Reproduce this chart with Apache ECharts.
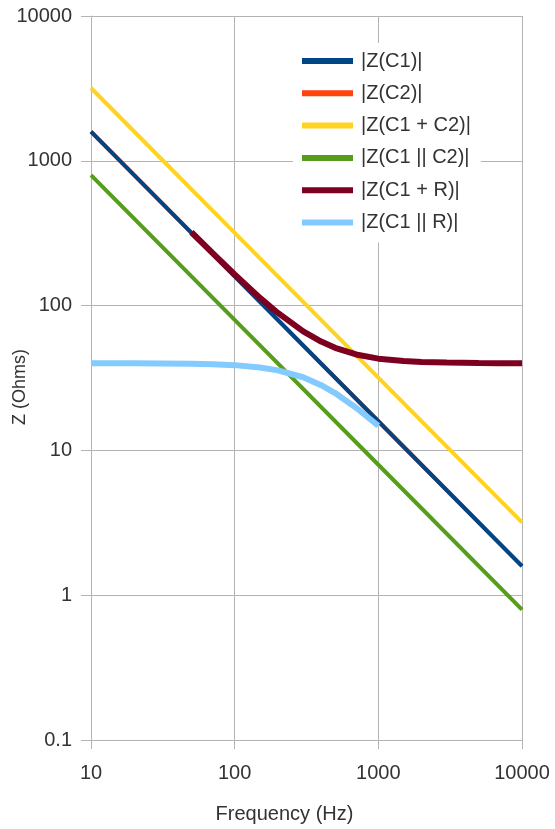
<!DOCTYPE html>
<html>
<head>
<meta charset="utf-8">
<script src="https://cdn.jsdelivr.net/npm/echarts@6/dist/echarts.min.js"></script>
<style>
  html, body { margin: 0; padding: 0; background: #fff; }
  #chart { width: 555px; height: 829px; }
</style>
</head>
<body>
<div id="chart"></div>
<script>
// frequencies (Hz) and impedances (Ohms)
const freqLine = [10, 100, 1000, 10000]
const zC1 = [1592, 159, 15.9, 1.59]
const zC2 = [1592, 159, 15.9, 1.59]
const zC1sC2 = [3183, 318, 31.8, 3.18]
const zC1pC2 = [796, 79.6, 7.96, 0.796]

const freqSR = [50, 70, 100, 150, 200, 300, 400, 500, 700, 1000, 1500, 2000, 3000, 5000, 7000, 10000]
const zC1sR = [321, 231, 164, 113, 89, 66.4, 56.4, 51.1, 46, 43, 41.4, 40.8, 40.4, 40.1, 40.05, 40]

const freqPR = [10, 20, 30, 50, 70, 100, 150, 200, 300, 400, 500, 700, 1000]
const zC1pR = [40, 39.95, 39.9, 39.7, 39.4, 38.8, 37.4, 35.7, 32, 28.2, 24.9, 19.7, 14.8]

const xTickLabels = ['10', '100', '1000', '10000']
const yTickLabels = ['0.1', '1', '10', '100', '1000', '10000']

const seriesNames = ['|Z(C1)|', '|Z(C2)|', '|Z(C1 + C2)|', '|Z(C1 || C2)|', '|Z(C1 + R)|', '|Z(C1 || R)|']
const seriesColors = ['#004586', '#ff420e', '#ffd320', '#579d1c', '#7e0021', '#83caff']

const pairs = (xs, ys) => xs.map((x, i) => [x, ys[i]])

const font = 'Liberation Sans, Arial, sans-serif'
const gridColor = '#b3b3b3'
const textColor = '#333333'

const chart = echarts.init(document.getElementById('chart'))

const tickLabel = (labels, min) => (v) => {
  const idx = Math.round(Math.log10(v) - Math.log10(min))
  return labels[idx] !== undefined ? labels[idx] : ''
}

const mkLine = (i, data, width, z) => ({
  name: seriesNames[i],
  type: 'line',
  data: data,
  showSymbol: false,
  symbol: 'none',
  z: z,
  lineStyle: { color: seriesColors[i], width: width },
  itemStyle: { color: seriesColors[i] },
  emphasis: { disabled: true }
})

const option = {
  animation: false,
  backgroundColor: '#fff',
  textStyle: { fontFamily: font },
  grid: { left: 91, right: 33, top: 16, bottom: 89, containLabel: false, outerBoundsMode: 'none' },
  legend: {
    data: seriesNames,
    orient: 'vertical',
    left: 293,
    top: 43,
    padding: [7, 10, 9, 9],
    backgroundColor: '#ffffff',
    icon: 'rect',
    itemWidth: 51,
    itemHeight: 6,
    itemGap: 10.3,
    textStyle: { fontFamily: font, fontSize: 20, lineHeight: 22, color: textColor, padding: [0, 0, 0, 3] }
  },
  xAxis: {
    type: 'log',
    logBase: 10,
    min: 10,
    max: 10000,
    name: 'Frequency (Hz)',
    nameLocation: 'middle',
    nameGap: 64,
    nameMoveOverlap: false,
    nameTextStyle: { fontFamily: font, fontSize: 20, color: textColor, padding: [0, 44, 0, 0] },
    axisLine: { show: true, lineStyle: { color: gridColor } },
    axisTick: { show: true, length: 9, lineStyle: { color: gridColor } },
    minorTick: { show: false },
    axisLabel: { fontSize: 20, color: textColor, margin: 23, formatter: tickLabel(xTickLabels, 10) },
    splitLine: { show: true, lineStyle: { color: gridColor, width: 1 } }
  },
  yAxis: {
    type: 'log',
    logBase: 10,
    min: 0.1,
    max: 10000,
    name: 'Z (Ohms)',
    nameLocation: 'middle',
    nameGap: 62,
    nameMoveOverlap: false,
    nameRotate: 90,
    nameTextStyle: { fontFamily: font, fontSize: 18, color: textColor, padding: [0, 18, 0, 0] },
    axisLine: { show: true, lineStyle: { color: gridColor } },
    axisTick: { show: true, length: 10, lineStyle: { color: gridColor } },
    axisLabel: { fontSize: 20, color: textColor, margin: 19, formatter: tickLabel(yTickLabels, 0.1) },
    splitLine: { show: true, lineStyle: { color: gridColor, width: 1 } }
  },
  series: [
    mkLine(0, pairs(freqLine, zC1), 4, 3),
    mkLine(1, pairs(freqLine, zC2), 4, 2),
    mkLine(2, pairs(freqLine, zC1sC2), 4, 3),
    mkLine(3, pairs(freqLine, zC1pC2), 4, 3),
    mkLine(4, pairs(freqSR, zC1sR), 6, 3),
    mkLine(5, pairs(freqPR, zC1pR), 6, 3)
  ]
}

chart.setOption(option)
</script>
</body>
</html>
